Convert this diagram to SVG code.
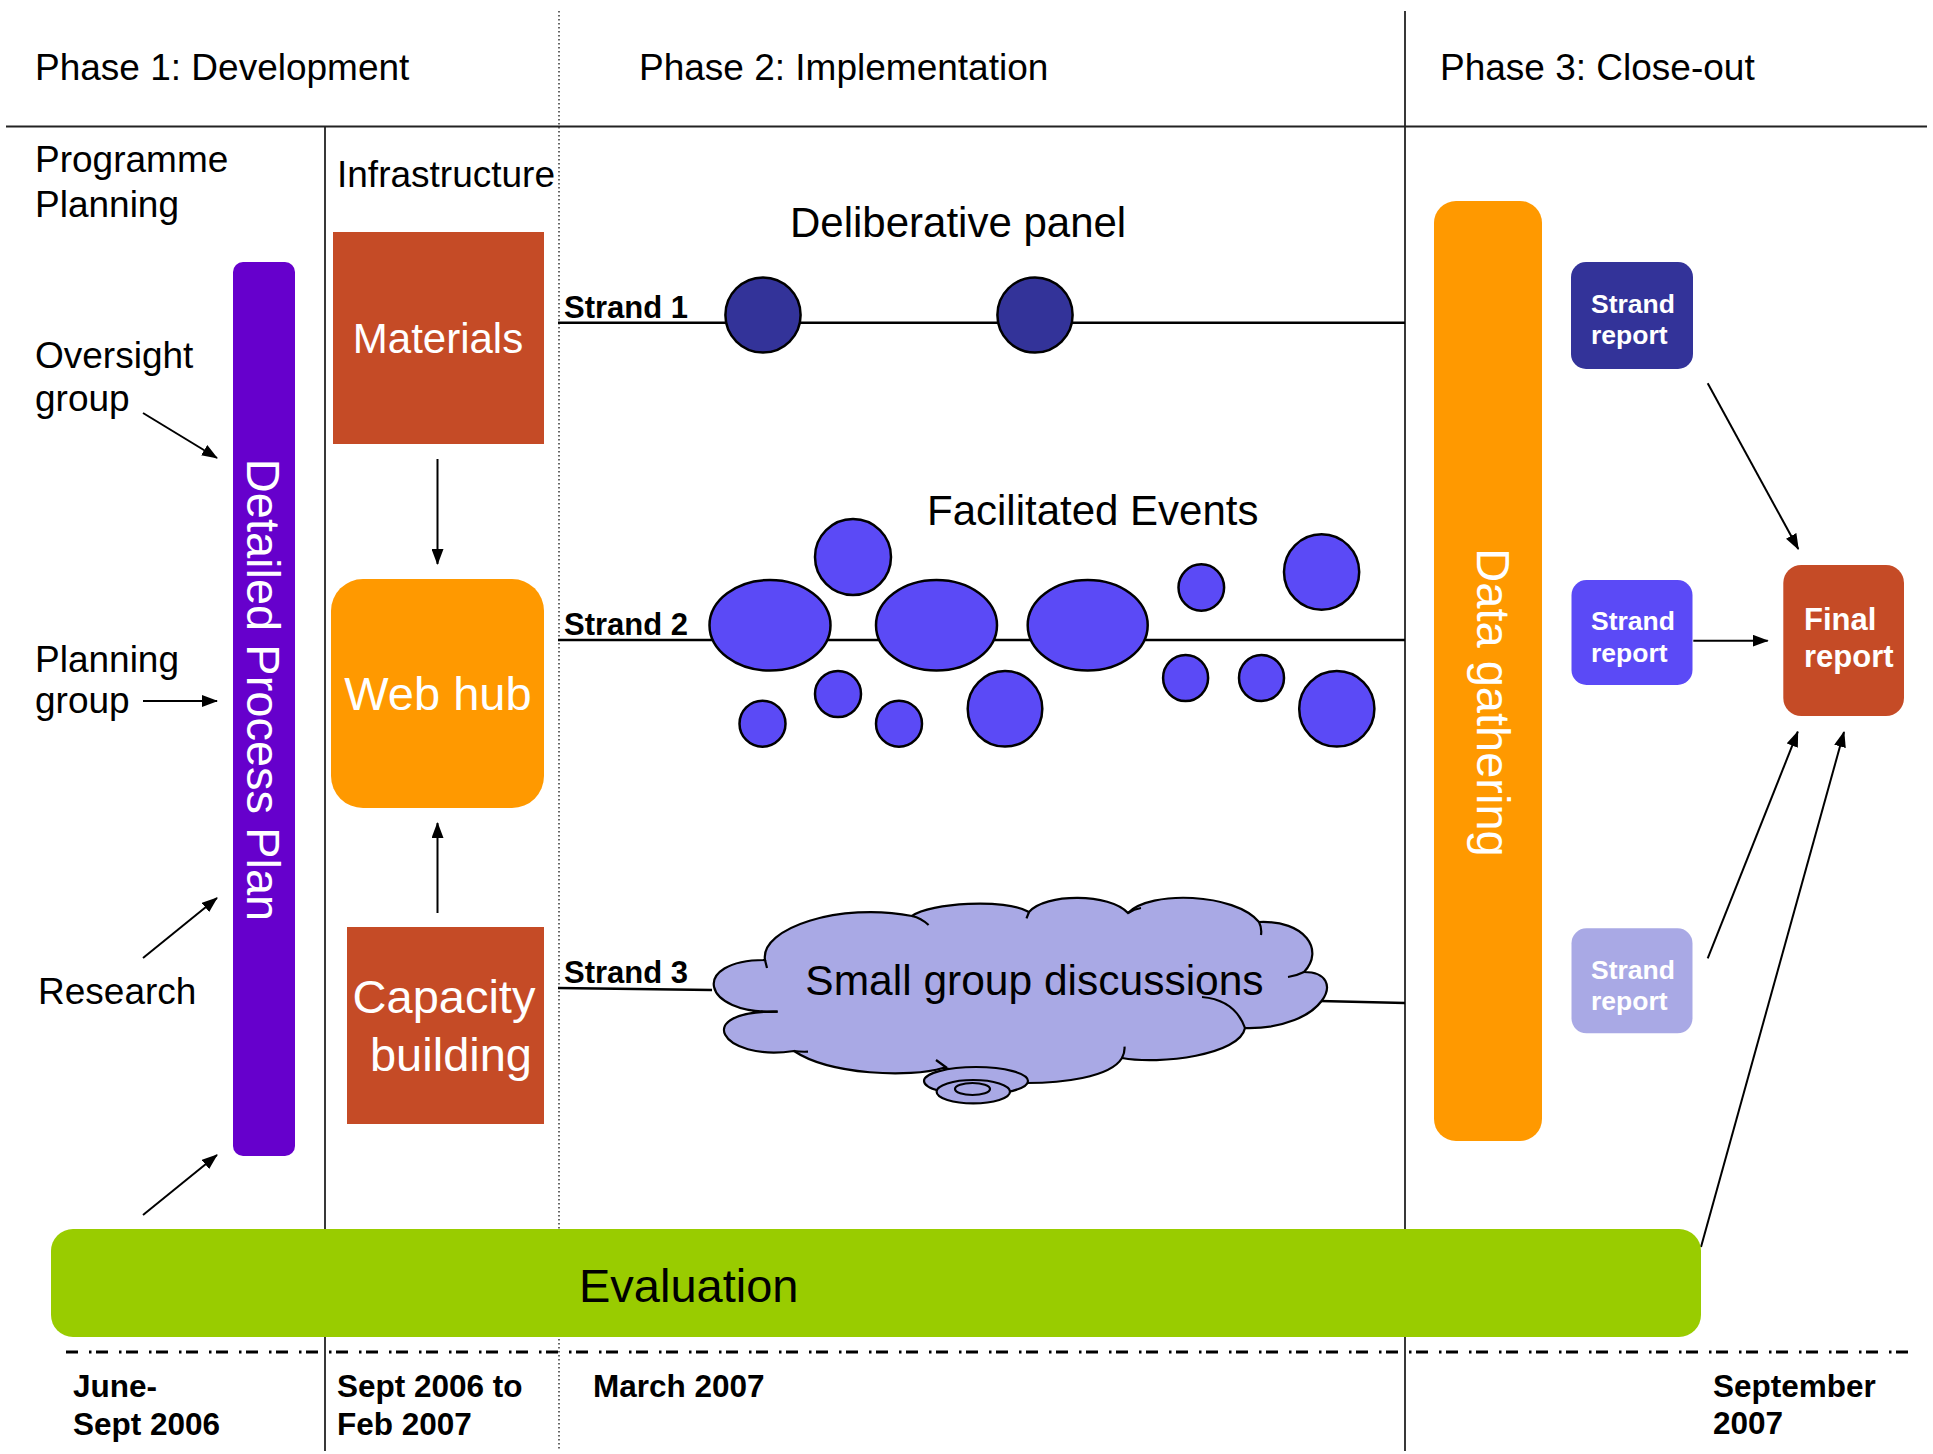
<svg xmlns="http://www.w3.org/2000/svg" width="1933" height="1454" viewBox="0 0 1933 1454">
<style>
text{font-family:"Liberation Sans",Arial,sans-serif;}
.lbl{font-size:37px;fill:#000;}
.big{font-size:42px;fill:#000;}
.wt{fill:#fff;}
.bold{font-weight:bold;}
.strand{font-size:31px;font-weight:bold;fill:#000;}
.date{font-size:31.5px;font-weight:bold;fill:#000;}
.rep{font-size:26.5px;font-weight:bold;fill:#fff;}
.grid{stroke:#222;stroke-width:1.8;fill:none;}
.dot{stroke:#333;stroke-width:1.5;stroke-dasharray:1.5 2.5;fill:none;}
.sline{stroke:#000;stroke-width:2.5;fill:none;}
.arr{stroke:#000;stroke-width:2;fill:none;marker-end:url(#ah);}
.e2{fill:#5B4AF6;stroke:#000;stroke-width:2.5;}
.e1{fill:#333399;stroke:#000;stroke-width:2.5;}
.cl{fill:#A9A9E5;stroke:#000;stroke-width:2.2;}
.cm{fill:none;stroke:#000;stroke-width:2.2;}
</style>
<defs>
<marker id="ah" markerWidth="16" markerHeight="12" refX="15" refY="6" orient="auto" markerUnits="userSpaceOnUse"><path d="M0,0 L16,6 L0,12 z" fill="#000"/></marker>
</defs>
<rect width="1933" height="1454" fill="#fff"/>

<g id="gridlines">
<line class="grid" x1="6" y1="126.5" x2="1927" y2="126.5" stroke-width="2.5"/>
<line class="grid" x1="325" y1="126.5" x2="325" y2="1451"/>
<line class="grid" x1="1405" y1="11" x2="1405" y2="1451"/>
<line class="dot" x1="559" y1="11" x2="559" y2="1451"/>
<line x1="66" y1="1352" x2="1912" y2="1352" stroke="#000" stroke-width="2.8" stroke-dasharray="12 11 2.5 4.5"/>
</g>

<g id="headers">
<text class="lbl" x="35" y="80">Phase 1: Development</text>
<text class="lbl" x="639" y="80">Phase 2: Implementation</text>
<text class="lbl" x="1440" y="80">Phase 3: Close-out</text>
<text class="lbl" x="35" y="172">Programme</text>
<text class="lbl" x="35" y="217">Planning</text>
<text class="lbl" x="337" y="187">Infrastructure</text>
</g>

<g id="inputs">
<text class="lbl" x="35" y="368">Oversight</text>
<text class="lbl" x="35" y="411">group</text>
<text class="lbl" x="35" y="672">Planning</text>
<text class="lbl" x="35" y="713">group</text>
<text class="lbl" x="38" y="1004">Research</text>
</g>

<g id="strand-lines">
<line class="sline" x1="558" y1="322.7" x2="1405" y2="322.7"/>
<line class="sline" x1="558" y1="640" x2="1405" y2="640"/>
<line class="sline" x1="558" y1="988" x2="712" y2="990"/>
<line class="sline" x1="1320" y1="1001" x2="1405" y2="1003"/>
</g>

<g id="connectors">
<line class="arr" x1="143" y1="413" x2="217" y2="458"/>
<line class="arr" x1="143" y1="701" x2="217" y2="701"/>
<line class="arr" x1="143" y1="958" x2="217" y2="898"/>
<line class="arr" x1="143" y1="1215" x2="217" y2="1155"/>
<line class="arr" x1="437.5" y1="459" x2="437.5" y2="564"/>
<line class="arr" x1="437.5" y1="913" x2="437.5" y2="823"/>
<line class="arr" x1="1707.7" y1="383.3" x2="1798.3" y2="549"/>
<line class="arr" x1="1693.3" y1="640.7" x2="1767.7" y2="640.7"/>
<line class="arr" x1="1707.7" y1="958.3" x2="1797.8" y2="731.7"/>
<line class="arr" x1="1701" y1="1247" x2="1844" y2="732"/>
</g>

<g id="detailed-process-plan">
<rect x="233" y="262" width="62" height="894" rx="10" fill="#6600CC"/>
<text transform="translate(247,690) rotate(90)" text-anchor="middle" font-size="47" class="wt">Detailed Process Plan</text>
</g>

<g id="materials">
<rect x="333" y="232" width="211" height="212" fill="#C54B26"/>
<text x="438" y="353" text-anchor="middle" font-size="42" class="wt">Materials</text>
</g>

<g id="web-hub">
<rect x="331" y="579" width="213" height="229" rx="32" fill="#FF9900"/>
<text x="438" y="710" text-anchor="middle" font-size="47" class="wt">Web hub</text>
</g>

<g id="capacity-building">
<rect x="347" y="927" width="197" height="197" fill="#C54B26"/>
<text x="444" y="1013" text-anchor="middle" font-size="47" class="wt">Capacity</text>
<text x="451" y="1071" text-anchor="middle" font-size="47" class="wt">building</text>
</g>

<g id="deliberative-panel">
<text class="big" x="790" y="237">Deliberative panel</text>
<circle class="e1" cx="763" cy="315" r="37.6"/>
<circle class="e1" cx="1035" cy="315" r="37.6"/>
</g>

<g id="facilitated-events">
<text class="big" x="927" y="525">Facilitated Events</text>
<ellipse class="e2" cx="770" cy="625.3" rx="60.5" ry="45.3"/>
<ellipse class="e2" cx="853" cy="557" rx="38" ry="38"/>
<ellipse class="e2" cx="936.5" cy="625.3" rx="60.5" ry="45.3"/>
<ellipse class="e2" cx="1087.7" cy="625.3" rx="60" ry="45.3"/>
<ellipse class="e2" cx="1201.3" cy="587.5" rx="22.8" ry="23.2"/>
<ellipse class="e2" cx="1321.6" cy="572" rx="37.6" ry="37.8"/>
<ellipse class="e2" cx="762.5" cy="723.7" rx="23" ry="23"/>
<ellipse class="e2" cx="838" cy="694" rx="23" ry="23"/>
<ellipse class="e2" cx="899" cy="723.7" rx="23" ry="23"/>
<ellipse class="e2" cx="1005" cy="708.8" rx="37.3" ry="37.8"/>
<ellipse class="e2" cx="1185.6" cy="678" rx="22.5" ry="23"/>
<ellipse class="e2" cx="1261.5" cy="678" rx="22.5" ry="23"/>
<ellipse class="e2" cx="1336.8" cy="708.8" rx="37.6" ry="37.8"/>
</g>

<g id="small-group-discussions">
<path class="cl" d="M765,960 C760,928 840,902 912,916 C930,903 1005,898 1029,912 C1045,893 1110,893 1128,913 C1150,890 1235,893 1259,922 C1305,920 1325,950 1304,972 C1350,972 1325,1030 1245,1028 C1240,1055 1160,1065 1122,1058 C1110,1078 1060,1083 1027,1083 L943,1068 C910,1078 830,1075 794,1051 C720,1062 690,1010 777.6,1011.7 C700,1015 690,960 765,960 Z"/>
<path class="cm" d="M765,960 L767,968 M912,916 Q921,918 928.6,925 M1029,912 L1026.5,918.3 M1128,913 Q1134,909 1141,908 M1259,922 Q1262,928 1261,935 M1304,972 Q1296,976 1288,977 M1202,997 Q1235,1000 1245,1028 M1122,1058 Q1125,1052 1124.5,1046.7 M936,1060 L947,1068 M794,1051 Q800,1052 808,1051.7 M777.6,1011.7 L761,1011.7"/>
<ellipse class="cl" cx="976" cy="1081" rx="52" ry="14"/>
<ellipse class="cl" cx="973.3" cy="1091.7" rx="36.7" ry="11.7"/>
<ellipse class="cl" cx="972.5" cy="1089" rx="17.5" ry="6"/>
<text x="1034.5" y="995" text-anchor="middle" font-size="42.5" fill="#000">Small group discussions</text>
</g>

<g id="strand-labels">
<text class="strand" x="564" y="318">Strand 1</text>
<text class="strand" x="564" y="635">Strand 2</text>
<text class="strand" x="564" y="983">Strand 3</text>
</g>

<g id="data-gathering">
<rect x="1434" y="201" width="108" height="940" rx="22" fill="#FF9900"/>
<text transform="translate(1477,702.5) rotate(90)" text-anchor="middle" font-size="47" class="wt">Data gathering</text>
</g>

<g id="strand-report-1">
<rect x="1571" y="262" width="122" height="107" rx="15" fill="#333399"/>
<text class="rep" x="1591" y="313">Strand</text>
<text class="rep" x="1591" y="344">report</text>
</g>
<g id="strand-report-2">
<rect x="1571.5" y="580" width="121" height="105" rx="15" fill="#5B4AF6"/>
<text class="rep" x="1591" y="630">Strand</text>
<text class="rep" x="1591" y="662">report</text>
</g>
<g id="strand-report-3">
<rect x="1571.5" y="928.3" width="121" height="105" rx="15" fill="#A9A9E5"/>
<text class="rep" x="1591" y="979">Strand</text>
<text class="rep" x="1591" y="1010">report</text>
</g>

<g id="final-report">
<rect x="1783.3" y="565" width="120.7" height="151" rx="18" fill="#C54B26"/>
<text x="1804" y="630" font-size="31" class="wt bold">Final</text>
<text x="1804" y="667" font-size="31" class="wt bold">report</text>
</g>

<g id="evaluation">
<rect x="51" y="1229" width="1650" height="108" rx="22" fill="#99CC00"/>
<text x="579" y="1302" font-size="47" fill="#000">Evaluation</text>
</g>

<g id="dates">
<text class="date" x="73" y="1397">June-</text>
<text class="date" x="73" y="1435">Sept 2006</text>
<text class="date" x="337" y="1397">Sept 2006 to</text>
<text class="date" x="337" y="1435">Feb 2007</text>
<text class="date" x="593" y="1397">March 2007</text>
<text class="date" x="1713" y="1397">September</text>
<text class="date" x="1713" y="1434">2007</text>
</g>
</svg>
